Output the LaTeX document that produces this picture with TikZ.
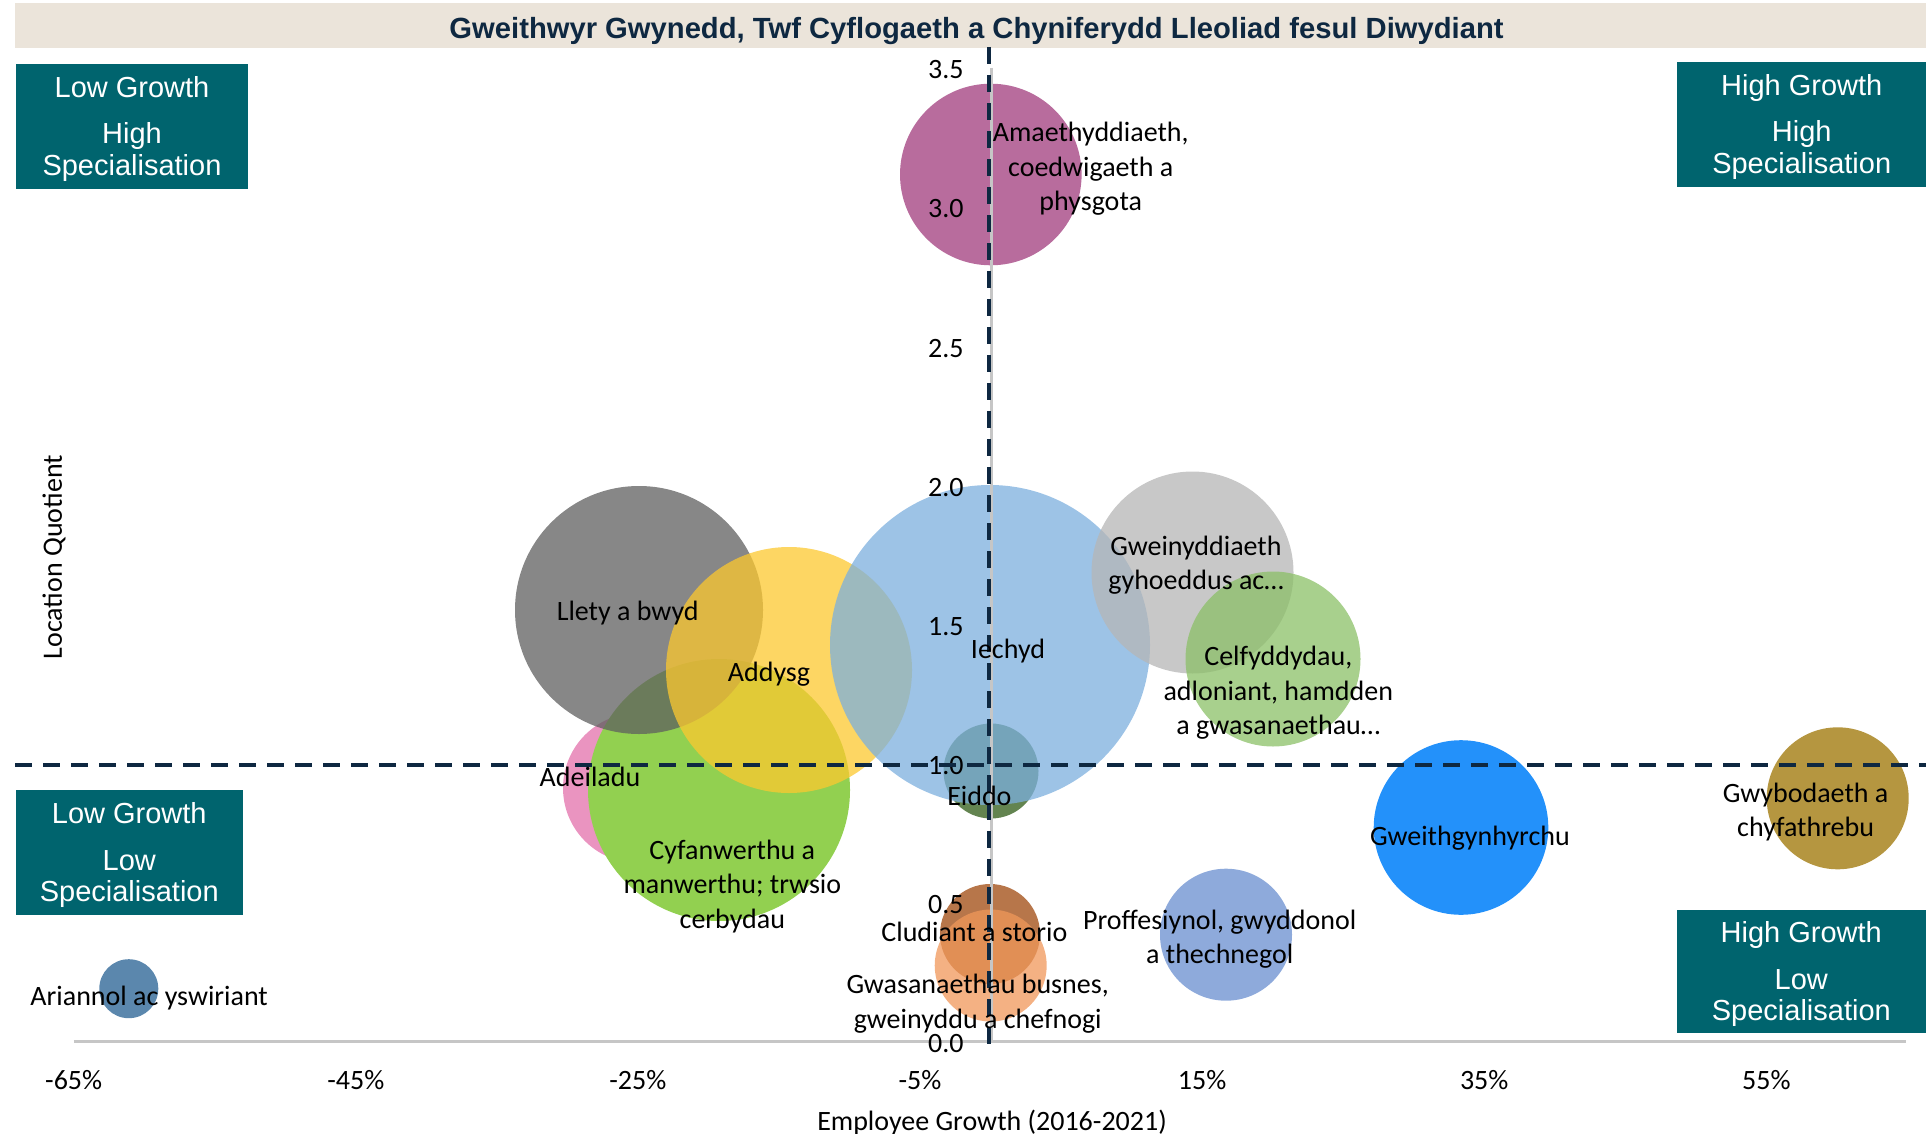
\documentclass[tikz,border=0pt]{standalone}
\usepackage{fontspec}
\setmainfont{Carlito}
\newfontfamily\arialfont{Liberation Sans}
\newcommand\lblfont{\fontsize{14pt}{17.25pt}\selectfont}
\newcommand\quadfont{\arialfont\fontsize{14.5pt}{15.85pt}\selectfont}
\newcommand\ttlfont{\arialfont\bfseries\fontsize{14.6pt}{17pt}\selectfont}
\definecolor{navy}{HTML}{0E2841}
\definecolor{barbg}{HTML}{EBE4DA}
\definecolor{quadteal}{HTML}{00646E}
\definecolor{axgray}{HTML}{C6C6C6}
\definecolor{cAde}{HTML}{E370AB}
\definecolor{cCyf}{HTML}{92D050}
\definecolor{cLle}{HTML}{5F5F5F}
\definecolor{cAdd}{HTML}{FCC82F}
\definecolor{cEid}{HTML}{2F5B16}
\definecolor{cIec}{HTML}{7CAFDE}
\definecolor{cGwn}{HTML}{B6B6B6}
\definecolor{cCel}{HTML}{8BC067}
\definecolor{cAma}{HTML}{A03B7C}
\definecolor{cClu}{HTML}{9F480E}
\definecolor{cGws}{HTML}{F0975A}
\definecolor{cPro}{HTML}{688DCF}
\definecolor{cGwt}{HTML}{2391FA}
\definecolor{cGwb}{HTML}{9C7300}
\definecolor{cAri}{HTML}{245F92}
\tikzset{
  bub/.style={circle, draw=none, inner sep=0pt, fill opacity=0.75, minimum size=#1},
  lbl/.style={font=\lblfont, align=center, inner sep=0pt, text=black, yshift=-1.1pt},
  quadbox/.style={fill=quadteal, inner sep=0pt},
  quadtext/.style={text=white, font=\quadfont, align=center, inner sep=0pt, yshift=-1.3pt},
  axline/.style={draw=axgray, line width=1.2pt},
  quadline/.style={draw=navy, line width=1.9pt, dash pattern=on 8.5pt off 5.5pt},
}
\begin{document}
\begin{tikzpicture}[x=0.5pt, y=-0.5pt]
\useasboundingbox (0,0) rectangle (1926,1134);
% title bar
\node[fill=barbg, minimum width=955.5pt, minimum height=22.5pt, inner sep=0pt] (bar) at (970.5,25.8) {};
\node[font=\ttlfont, text=navy, inner sep=0pt] (title) at (976.5,31) {Gweithwyr Gwynedd, Twf Cyflogaeth a Chyniferydd Lleoliad fesul Diwydiant};
% bubbles
\node[bub=75pt, fill=cAde] (adeB) at (638,788) {};
\node[bub=131pt, fill=cCyf, fill opacity=1] (cyfB) at (719,790) {};
\node[bub=124pt, fill=cLle] (lleB) at (639,610) {};
\node[bub=123pt, fill=cAdd] (addB) at (789,670) {};
\node[bub=47.5pt, fill=cEid] (eidB) at (991,771) {};
\node[bub=160pt, fill=cIec] (iecB) at (990,645) {};
\node[bub=101pt, fill=cGwn] (gwnB) at (1192.5,572.5) {};
\node[bub=87.5pt, fill=cCel] (celB) at (1273,659) {};
\node[bub=90.8pt, fill=cAma] (amaB) at (990.8,174.5) {};
\node[bub=50pt, fill=cClu] (cluB) at (990,934) {};
\node[bub=56pt, fill=cGws] (gwsB) at (990.7,965.5) {};
\node[bub=66pt, fill=cPro] (proB) at (1226,934.7) {};
\node[bub=87.3pt, fill=cGwt, fill opacity=1] (gwtB) at (1461,827.5) {};
\node[bub=71pt, fill=cGwb] (gwbB) at (1837.7,798.3) {};
\node[bub=29.5pt, fill=cAri] (ariB) at (128.8,988.7) {};
% axes
\coordinate (xaL) at (73.7,1041.6);
\coordinate (xaR) at (1906,1041.6);
\coordinate (yaT) at (991.5,67.6);
\coordinate (yaB) at (991.5,1041.6);
\draw[axline] (xaL) -- (xaR);
\draw[axline] (yaT) -- (yaB);
% y tick labels
\foreach \v/\t [count=\i] in {0/0.0,0.5/0.5,1/1.0,1.5/1.5,2/2.0,2.5/2.5,3/3.0,3.5/3.5}
  \node[lbl, anchor=east] (yt\i) at (964,{1041.6-278.3*\v}) {\t};
% x tick labels
\foreach \p [count=\i] in {-65,-45,-25,-5,15,35,55}
  \node[lbl] (xt\i) at ({73.7+282.1*(\i-1)},1078.3) {\p\%};
\node[lbl] (xtitle) at (992,1120) {Employee Growth (2016-2021)};
\node[lbl, rotate=90] (ytitle) at (54,555) {Location Quotient};
% quadrant dashed lines
\coordinate (vT) at (989,47);
\coordinate (vB) at (989,1052);
\coordinate (hL) at (15,765);
\coordinate (hR) at (1926,765);
\draw[quadline] (vT) -- (vB);
\draw[quadline] (hL) -- (hR);
% data labels
\node[lbl] (amaL) at (1090.7,166.7) {Amaethyddiaeth,\\coedwigaeth a\\physgota};
\node[lbl] (lleL) at (627.7,610.5) {Llety a bwyd};
\node[lbl] (addL) at (769,671.7) {Addysg};
\node[lbl] (iecL) at (1008,649) {Iechyd};
\node[lbl] (gwnL) at (1196,563) {Gweinyddiaeth\\gyhoeddus ac…};
\node[lbl] (celL) at (1278.3,690.5) {Celfyddydau,\\adloniant, hamdden\\a gwasanaethau…};
\node[lbl] (adeL) at (590,775) {Adeiladu};
\node[lbl] (cyfL) at (732.3,884) {Cyfanwerthu a\\manwerthu; trwsio\\cerbydau};
\node[lbl] (eidL) at (979.4,794) {Eiddo};
\node[lbl] (cluL) at (974.4,930) {Cludiant a storio};
\node[lbl] (gwsL) at (977.7,1001.7) {Gwasanaethau busnes,\\gweinyddu a chefnogi};
\node[lbl] (proL) at (1219.7,937.2) {Proffesiynol, gwyddonol\\a thechnegol};
\node[lbl] (gwtL) at (1470,836) {Gweithgynhyrchu};
\node[lbl] (gwbL) at (1805.6,809.7) {Gwybodaeth a\\chyfathrebu};
\node[lbl] (ariL) at (149.2,996) {Ariannol ac yswiriant};
% quadrant boxes
\node[quadbox, minimum width=116pt, minimum height=62.3pt] (qTL) at (132,126.3) {};
\node[quadtext] (qTLt) at (qTL.center) {Low Growth\\[7.45pt]High\\Specialisation};
\node[quadbox, minimum width=124.3pt, minimum height=62.5pt] (qTR) at (1801.7,124.2) {};
\node[quadtext] (qTRt) at (qTR.center) {High Growth\\[7.45pt]High\\Specialisation};
\node[quadbox, minimum width=113.3pt, minimum height=62.5pt] (qBL) at (129.3,852.5) {};
\node[quadtext] (qBLt) at (qBL.center) {Low Growth\\[7.45pt]Low\\Specialisation};
\node[quadbox, minimum width=124.7pt, minimum height=61.5pt] (qBR) at (1801.3,971.5) {};
\node[quadtext] (qBRt) at (qBR.center) {High Growth\\[7.45pt]Low\\Specialisation};
\end{tikzpicture}
\end{document}
